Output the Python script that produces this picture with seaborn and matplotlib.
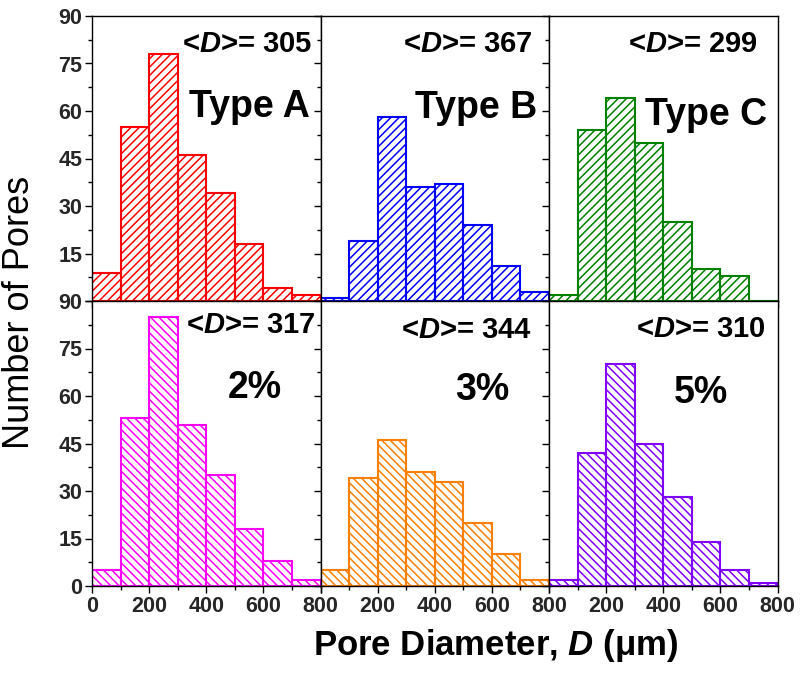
import matplotlib
matplotlib.use('Agg')
import matplotlib.pyplot as plt
import seaborn as sns
import numpy as np
from matplotlib.ticker import MultipleLocator

# ---------------- data ----------------
bin_edges = [0, 100, 200, 300, 400, 500, 600, 700, 800]
type_a = [9, 55, 78, 46, 34, 18, 4, 2]
type_b = [1, 19, 58, 36, 37, 24, 11, 3]
type_c = [2, 54, 64, 50, 25, 10, 8, 0]
pct_2 = [5, 53, 85, 51, 35, 18, 8, 2]
pct_3 = [5, 34, 46, 36, 33, 20, 10, 2]
pct_5 = [2, 42, 70, 45, 28, 14, 5, 1]
mean_d = [305, 367, 299, 317, 344, 310]
panel_labels = ['Type A', 'Type B', 'Type C', '2%', '3%', '5%']
y_ticks = [0, 15, 30, 45, 60, 75, 90]
x_ticks = [0, 200, 400, 600, 800]

series = [type_a, type_b, type_c, pct_2, pct_3, pct_5]
colors = ['#FF0000', '#0000FF', '#008000', '#FF00FF', '#FF8000', '#8000FF']
hatches = ['////', '////', '////', '\\\\\\\\', '\\\\\\\\', '\\\\\\\\']

# ---------------- style ----------------
sns.set_theme(style='ticks')
plt.rcParams['font.family'] = ['Liberation Sans', 'DejaVu Sans']
plt.rcParams['mathtext.fontset'] = 'custom'
plt.rcParams['mathtext.rm'] = 'Liberation Sans:bold'
plt.rcParams['mathtext.it'] = 'Liberation Sans:italic:bold'
plt.rcParams['mathtext.bf'] = 'Liberation Sans:bold'
plt.rcParams['hatch.linewidth'] = 1.1

W, H = 800, 675
fig = plt.figure(figsize=(8, 6.75), dpi=100)

lefts = [92, 320.5, 549]
pw = 228.5
rows = [(16, 301), (301, 586)]

# text positions (pixels): (right x, baseline y) for <D> and label
d_pos = [(312, 52), (532, 52), (758, 52), (315, 333), (532, 338), (766, 337)]
lab_pos = [(310, 117), (537, 118), (767, 125), (282, 398), (509, 400), (728, 403)]

centers = [(bin_edges[i] + bin_edges[i + 1]) / 2 for i in range(len(bin_edges) - 1)]
tick_font = dict(family=['Liberation Sans', 'DejaVu Sans'], weight='bold', size=15.5)

for idx in range(6):
    r, c = divmod(idx, 3)
    top, bot = rows[r]
    ax = fig.add_axes([lefts[c] / W, 1 - bot / H, pw / W, (bot - top) / H])
    sns.histplot(x=centers, weights=series[idx], bins=bin_edges, ax=ax,
                 color=colors[idx], alpha=1, legend=False)
    for p in ax.patches:
        p.set_facecolor('none')
        p.set_edgecolor(colors[idx])
        p.set_hatch(hatches[idx])
        p.set_linewidth(1.5)
    ax.set_xlim(0, 800)
    ax.set_ylim(0, 90)
    ax.set_xlabel('')
    ax.set_ylabel('')
    for s in ax.spines.values():
        s.set_visible(True)
        s.set_linewidth(1.0)
        s.set_color('black')
    ax.set_yticks(y_ticks)
    ax.yaxis.set_minor_locator(MultipleLocator(7.5))
    ax.set_xticks(x_ticks)
    ax.xaxis.set_minor_locator(MultipleLocator(100))
    ax.tick_params(which='major', direction='out', length=5, width=1, color='black', pad=2)
    ax.tick_params(which='minor', direction='out', length=3, width=1, color='black')
    if c == 0:
        ylabs = [str(v) for v in y_ticks]
        if r == 0:
            ylabs[0] = ''
        ax.set_yticklabels(ylabs, fontdict=tick_font)
    else:
        ax.set_yticklabels([])
    if r == 1:
        xlabs = [str(v) for v in x_ticks]
        if c > 0:
            xlabs[0] = ''
        ax.set_xticklabels(xlabs, fontdict=tick_font)
    else:
        ax.set_xticklabels([])

    dx, dy = d_pos[idx]
    fig.text(dx / W, 1 - dy / H, r'<$\mathit{D}$>= ' + str(mean_d[idx]),
             ha='right', va='baseline', fontsize=21, fontweight='bold', color='black')
    lx, ly = lab_pos[idx]
    fig.text(lx / W, 1 - ly / H, panel_labels[idx], ha='right', va='baseline',
             fontsize=27, fontweight='bold', color='black')

fig.text(20 / W, 1 - 312 / H, 'Number of Pores', rotation=90, ha='center', va='center',
         fontsize=26, color='black')
fig.text(496 / W, 1 - 646 / H, r'Pore Diameter, $\mathit{D}$ (μm)', ha='center', va='center',
         fontsize=25, fontweight='bold', color='black')

fig.savefig('out.png', dpi=100, facecolor='white')
